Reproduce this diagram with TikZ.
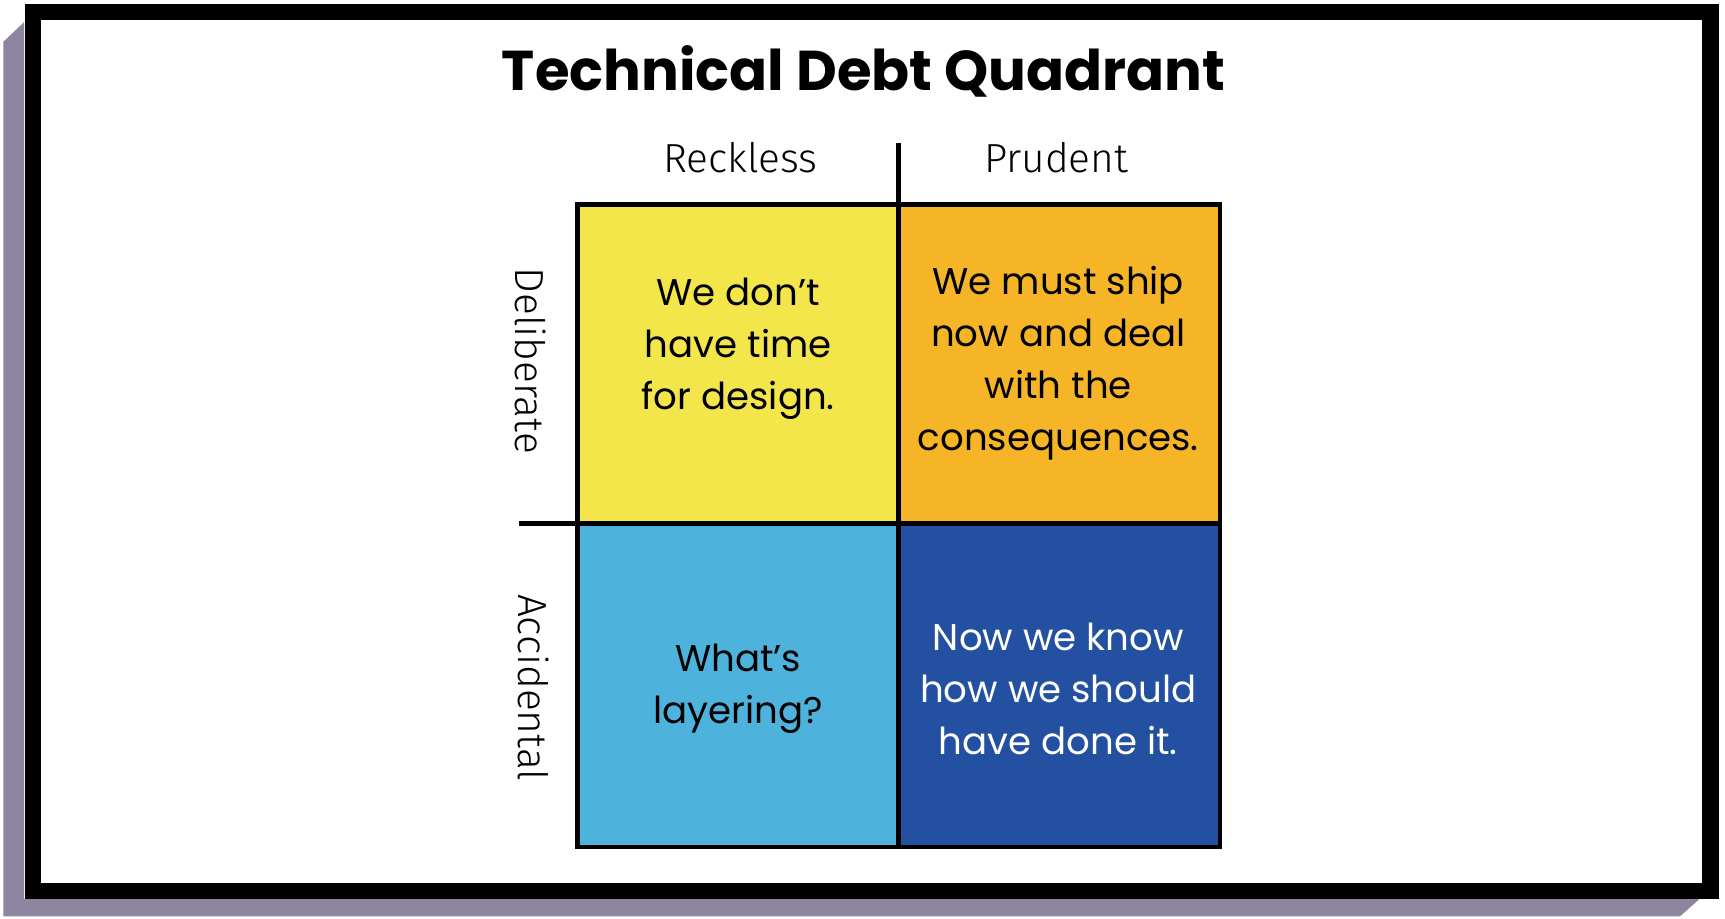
\documentclass[tikz,border=0pt]{standalone}
\usepackage{fontspec}
\setmainfont{Poppins}
\newfontfamily\hand{Fira Sans Light}
\definecolor{shadowc}{HTML}{8E85A0}
\definecolor{qyel}{HTML}{F2E64A}
\definecolor{qora}{HTML}{F6B526}
\definecolor{qlbl}{HTML}{4DB3DC}
\definecolor{qdbl}{HTML}{2350A0}
\begin{document}
\begin{tikzpicture}[x=0.01cm,y=-0.01cm,
  qtext/.style={align=center,font=\fontsize{9.6pt}{13.4pt}\selectfont,text=black},
  axlab/.style={font=\hand\fontsize{10.5pt}{12pt}\selectfont}]
\useasboundingbox (0,0) rectangle (1568,835);
\fill[shadowc] (3,38) -- (22,20) -- (22,817) -- (1545,817) -- (1527,833) -- (3,833) -- cycle;
\draw[line width=4.27pt, black, fill=white] (30,11) rectangle (1555,810);
\node[font=\bfseries\fontsize{14.5pt}{17pt}\selectfont] (title) at (785,65) {Technical Debt Quadrant};
\fill[qyel] (525,186) rectangle (817,476);
\fill[qora] (817,186) rectangle (1109,476);
\fill[qlbl] (525,476) rectangle (817,770);
\fill[qdbl] (817,476) rectangle (1109,770);
\draw[line width=1.2pt] (525,186) rectangle (1109,770);
\coordinate (vt) at (817,130);
\coordinate (vb) at (817,770);
\coordinate (hl) at (472,476);
\coordinate (hr) at (1109,476);
\draw[line width=1.2pt] (vt) -- (vb);
\draw[line width=1.2pt] (hl) -- (hr);
\node[qtext] (q1) at (671,317) {We don't\\have time\\for design.};
\node[qtext] (q2) at (962,330) {We must ship\\now and deal\\with the\\consequences.};
\node[qtext] (q3) at (671,626) {What's\\layering?};
\node[qtext,text=white] (q4) at (962,626) {Now we know\\how we should\\have done it.};
\node[axlab] (rk) at (673,143) {Reckless};
\node[axlab] (pr) at (960,143) {Prudent};
\node[axlab,rotate=-90] (de) at (482,328) {Deliberate};
\node[axlab,rotate=-90] (ac) at (485,625) {Accidental};
\end{tikzpicture}
\end{document}
